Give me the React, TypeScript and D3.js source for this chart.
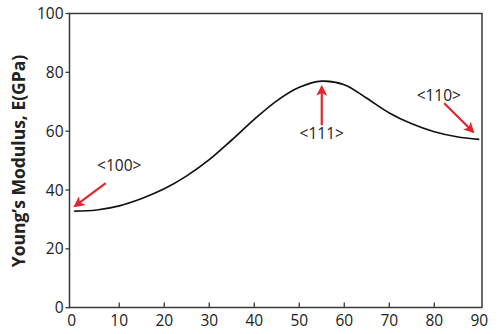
import React from "react";
import * as d3 from "d3";

const angles = [0, 5, 10, 15, 20, 25, 30, 35, 40, 45, 50, 55, 60, 65, 70, 75, 80, 85, 90];
const modulus = [32.8, 33.2, 34.6, 37.1, 40.4, 44.8, 50.3, 57, 64, 70.3, 74.9, 77, 75.8, 71.2, 66.2, 62.5, 59.8, 58.1, 57.2];
const xTicks = [0, 10, 20, 30, 40, 50, 60, 70, 80, 90];
const yTicks = [0, 20, 40, 60, 80, 100];
const annotations = [
  { label: "<100>", tx: 10, ty: 46.5, x1: 7, y1: 42.3, x2: 0.2, y2: 34.6 },
  { label: "<111>", tx: 55, ty: 57.2, x1: 55, y1: 62, x2: 55, y2: 75 },
  { label: "<110>", tx: 81, ty: 70.3, x1: 82.2, y1: 69.5, x2: 88.6, y2: 59.8 },
];

export default function App() {
  const W = 500, H = 334;
  const left = 69.5, right = 482, top = 13.5, bottom = 307.5;
  const x = d3.scaleLinear().domain([-1.05, 90.6]).range([left, right]);
  const y = d3.scaleLinear().domain([0.4, 100]).range([bottom - 1, top]);
  const line = d3.line<number>()
    .x((_, i) => x(angles[i]))
    .y((d) => y(d))
    .curve(d3.curveCatmullRom.alpha(0.5));
  const font = "'Open Sans', 'Noto Sans', sans-serif";
  const axisCol = "#3a3a3a";
  const red = "#e1262d";
  return (
    <svg width={W} height={H} style={{ position: "absolute", left: 0, top: 0, background: "#fff" }}>
      <defs>
        <marker id="ah" viewBox="0 0 10 10" refX="8" refY="5" markerWidth="5" markerHeight="5" orient="auto" markerUnits="strokeWidth">
          <path d="M0,0 L10,5 L0,10 L2.5,5 z" fill={red} />
        </marker>
      </defs>
      <rect x={left} y={top} width={right - left} height={bottom - top} fill="none" stroke={axisCol} strokeWidth={1.5} />
      {yTicks.map((t) => (
        <g key={"y" + t}>
          <line x1={left - 4} x2={left} y1={y(t)} y2={y(t)} stroke={axisCol} strokeWidth={1.3} />
          <text x={left - 6} y={y(t)} dy="0.36em" textAnchor="end" fontFamily={font} fontSize={15.5} fill="#222">{t}</text>
        </g>
      ))}
      {xTicks.map((t) => (
        <g key={"x" + t}>
          {t > 0 && t < 90 && (
            <line x1={x(t)} x2={x(t)} y1={bottom} y2={bottom - 5} stroke={axisCol} strokeWidth={1.3} />
          )}
          <text x={t === 0 ? x(t) - 2.5 : x(t)} y={325.5} textAnchor="middle" fontFamily={font} fontSize={15.5} fill="#222">{t}</text>
        </g>
      ))}
      <text transform={`translate(25,161) rotate(-90)`} textAnchor="middle" fontFamily={font} fontWeight="bold" fontSize={17.5} fill="#222">
        Young’s Modulus, E(GPa)
      </text>
      <path d={line(modulus) || ""} fill="none" stroke="#111" strokeWidth={1.7} />
      {annotations.map((a) => (
        <g key={a.label}>
          <text x={x(a.tx)} y={y(a.ty)} textAnchor="middle" fontFamily={font} fontSize={15.5} fill="#222">{a.label}</text>
          <line x1={x(a.x1)} y1={y(a.y1)} x2={x(a.x2)} y2={y(a.y2)} stroke={red} strokeWidth={2.2} markerEnd="url(#ah)" />
        </g>
      ))}
    </svg>
  );
}
